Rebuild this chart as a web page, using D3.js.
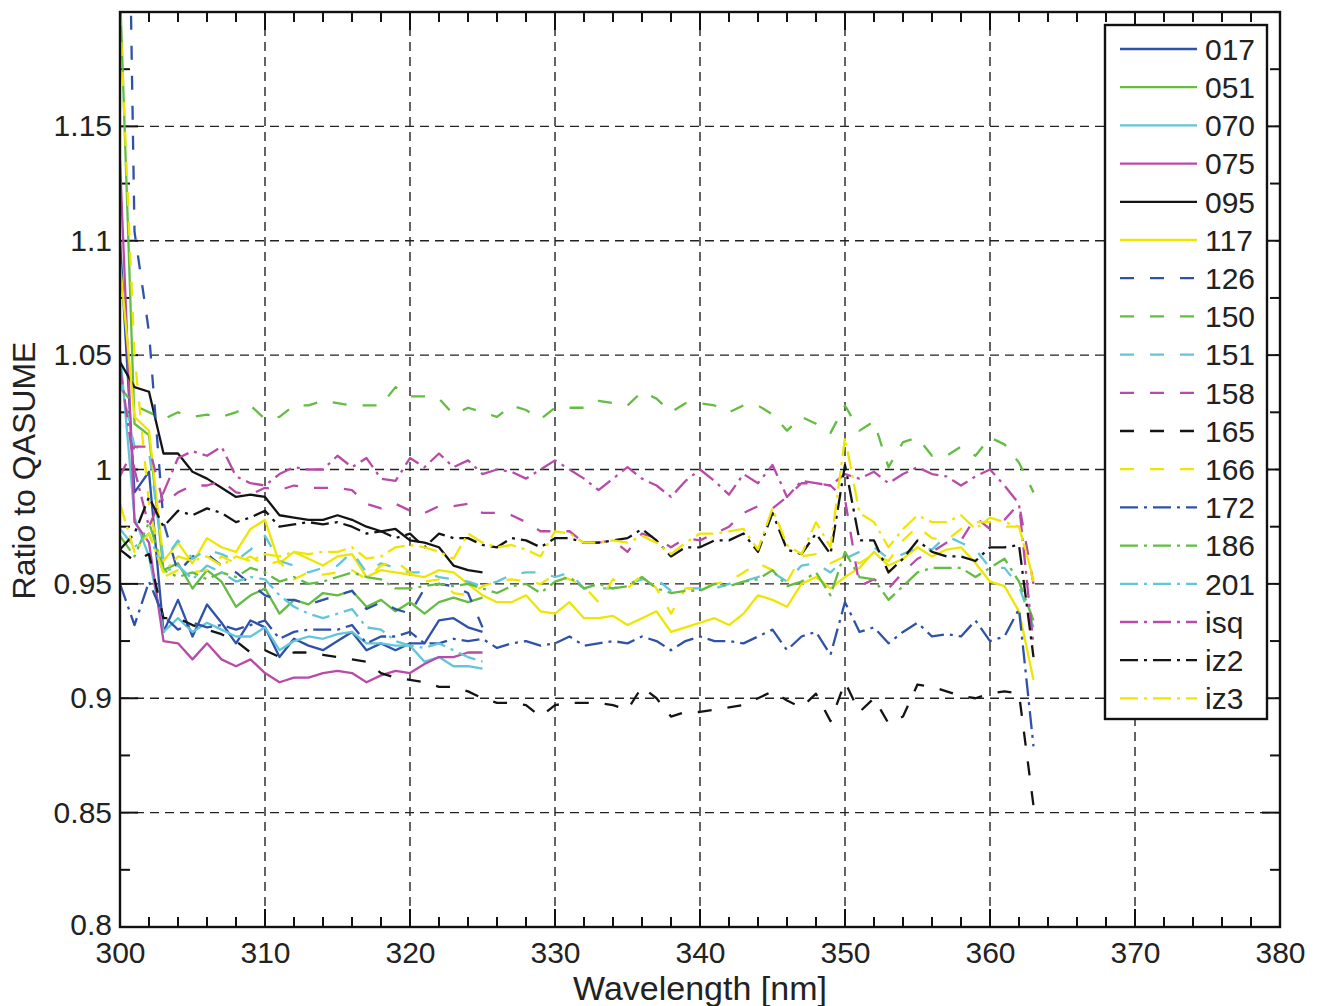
<!DOCTYPE html>
<html>
<head>
<meta charset="utf-8">
<script src="https://cdn.jsdelivr.net/npm/d3@7"></script>
<style>
  html, body { margin: 0; padding: 0; background: #fff; }
  svg text { font-family: "Liberation Sans", Arial, Helvetica, sans-serif; fill: #222; }
</style>
</head>
<body>
<svg id="chart" width="1320" height="1006"></svg>
<script>
// ---------------- DATA ----------------
const wavelengthsShort = [300,301,302,303,304,305,306,307,308,309,310,311,312,313,314,315,316,317,318,319,320,321,322,323,324,325];
const wavelengthsLong = [300,301,302,303,304,305,306,307,308,309,310,311,312,313,314,315,316,317,318,319,320,321,322,323,324,325,
  326,327,328,329,330,331,332,333,334,335,336,337,338,339,340,341,342,343,344,345,346,347,348,349,350,351,352,353,354,355,356,357,358,359,360,361,362,363];

const s017 = [1.10,0.99,0.999,0.929,0.943,0.927,0.941,0.933,0.924,0.934,0.931,0.918,0.926,0.923,0.921,0.925,0.929,0.921,0.924,0.921,0.924,0.924,0.934,0.935,0.931,0.929];
const s051 = [1.21,1.02,1.015,0.956,0.959,0.948,0.956,0.951,0.940,0.945,0.948,0.937,0.943,0.941,0.946,0.945,0.947,0.940,0.943,0.938,0.942,0.937,0.942,0.944,0.942,0.944];
const s070 = [1.052,0.979,0.962,0.929,0.935,0.929,0.933,0.930,0.927,0.927,0.931,0.921,0.925,0.927,0.926,0.928,0.929,0.924,0.924,0.923,0.923,0.916,0.918,0.914,0.914,0.913];
const s075 = [1.135,0.977,0.968,0.925,0.924,0.917,0.924,0.917,0.914,0.917,0.911,0.907,0.909,0.909,0.911,0.912,0.911,0.907,0.910,0.912,0.911,0.915,0.918,0.918,0.920,0.920];
const s095 = [1.047,1.036,1.034,1.007,1.007,0.999,0.996,0.992,0.988,0.989,0.988,0.980,0.979,0.978,0.978,0.980,0.978,0.975,0.973,0.974,0.969,0.968,0.966,0.958,0.956,0.955];
const s117 = [1.09,1.023,1.017,0.960,0.968,0.959,0.970,0.966,0.964,0.974,0.978,
  0.959,0.964,0.961,0.958,0.962,0.963,0.953,0.956,0.955,0.954,
  0.953,0.956,0.955,0.950,0.945,0.942,0.942,0.945,0.938,0.937,
  0.942,0.935,0.935,0.936,0.932,0.935,0.938,0.929,0.931,0.933,
  0.935,0.932,0.937,0.945,0.943,0.940,0.950,0.953,0.948,0.953,
  0.957,0.964,0.958,0.961,0.966,0.962,0.965,0.966,0.959,0.951,
  0.949,0.938,0.908];
const s126 = [1.5,1.104,1.06,0.977,0.955,0.962,0.963,0.958,0.955,0.950,0.945,0.943,0.943,0.941,0.943,0.945,0.947,0.939,0.942,0.939,0.937,0.948,0.950,0.949,0.946,0.931];
const s150 = [1.036,1.028,1.025,1.022,1.025,1.023,1.024,1.023,1.025,1.028,1.022,
  1.023,1.028,1.028,1.030,1.029,1.028,1.028,1.028,1.036,1.032,
  1.032,1.031,1.024,1.027,1.025,1.023,1.028,1.026,1.022,1.027,
  1.027,1.027,1.030,1.029,1.028,1.034,1.031,1.025,1.029,1.029,
  1.028,1.025,1.028,1.028,1.024,1.017,1.023,1.020,1.016,1.028,
  1.017,1.021,1.001,1.012,1.014,1.006,1.006,1.010,1.006,1.014,
  1.011,1.003,0.990];
const s151 = [1.04,1.01,1.008,0.960,0.969,0.961,0.965,0.963,0.960,0.965,0.971,
  0.960,0.958,0.955,0.957,0.958,0.964,0.955,0.959,0.957,0.955,
  0.955,0.953,0.952,0.951,0.949,0.951,0.954,0.955,0.955,0.953,
  0.955,0.948,0.948,0.948,0.950,0.952,0.952,0.947,0.948,0.948,
  0.948,0.950,0.951,0.953,0.955,0.951,0.958,0.959,0.955,0.961,
  0.964,0.966,0.961,0.963,0.966,0.965,0.971,0.968,0.965,0.957,
  0.957,0.949,0.931];
const s158 = [0.997,1.010,1.010,0.985,0.990,0.993,0.993,0.995,0.990,0.989,0.992,
  0.991,0.993,0.992,0.992,0.992,0.991,0.985,0.983,0.985,0.982,
  0.981,0.984,0.984,0.985,0.981,0.981,0.980,0.977,0.973,0.973,
  0.973,0.968,0.968,0.969,0.964,0.972,0.970,0.966,0.970,0.969,
  0.972,0.975,0.981,0.984,0.983,0.988,0.994,0.994,0.993,0.987,
  0.949,0.952,0.948,0.955,0.961,0.964,0.968,0.969,0.979,0.974,
  0.978,0.985,0.950];
const s165 = [0.965,0.960,0.963,0.935,0.935,0.932,0.930,0.928,0.925,0.920,0.921,
  0.918,0.920,0.920,0.919,0.918,0.917,0.916,0.911,0.909,0.908,
  0.907,0.905,0.905,0.903,0.900,0.898,0.898,0.897,0.892,0.897,
  0.898,0.898,0.898,0.897,0.895,0.905,0.900,0.892,0.894,0.894,
  0.895,0.896,0.897,0.900,0.903,0.899,0.896,0.902,0.890,0.907,
  0.894,0.900,0.889,0.892,0.906,0.905,0.903,0.901,0.900,0.902,
  0.903,0.902,0.853];
const s166 = [1.20,1.05,0.985,0.953,0.956,0.955,0.956,0.962,0.959,0.962,0.958,
  0.960,0.952,0.955,0.954,0.955,0.956,0.952,0.958,0.960,0.955,
  0.951,0.952,0.946,0.945,0.949,0.951,0.952,0.951,0.950,0.954,
  0.952,0.949,0.942,0.952,0.948,0.954,0.948,0.937,0.948,0.948,
  0.950,0.951,0.955,0.959,0.956,0.951,0.962,0.963,0.959,0.962,
  0.959,0.963,0.960,0.969,0.975,0.970,0.969,0.974,0.977,0.977,
  0.975,0.975,0.951];
const s172 = [0.950,0.932,0.951,0.936,0.930,0.933,0.931,0.932,0.930,0.932,0.934,
  0.926,0.929,0.930,0.930,0.930,0.932,0.924,0.927,0.927,0.929,
  0.924,0.924,0.926,0.925,0.926,0.922,0.924,0.925,0.923,0.924,
  0.927,0.923,0.924,0.925,0.924,0.927,0.925,0.921,0.925,0.927,
  0.925,0.925,0.924,0.927,0.930,0.921,0.927,0.929,0.919,0.942,
  0.929,0.931,0.924,0.929,0.933,0.927,0.928,0.927,0.934,0.925,
  0.927,0.939,0.879];
const s186 = [0.971,0.962,0.977,0.956,0.953,0.955,0.952,0.955,0.953,0.957,0.955,
  0.951,0.953,0.950,0.951,0.953,0.955,0.953,0.952,0.948,0.948,
  0.949,0.950,0.949,0.950,0.948,0.946,0.949,0.950,0.946,0.951,
  0.953,0.948,0.950,0.948,0.949,0.953,0.948,0.946,0.947,0.947,
  0.950,0.949,0.951,0.952,0.956,0.949,0.951,0.955,0.945,0.964,
  0.953,0.952,0.943,0.949,0.955,0.957,0.957,0.957,0.953,0.957,
  0.961,0.951,0.934];
const s201 = [0.974,0.966,0.972,0.955,0.958,0.952,0.958,0.955,0.951,0.953,0.952,0.945,0.940,0.937,0.935,0.937,0.939,0.931,0.930,0.925,0.923,0.922,0.924,0.921,0.918,0.916];
const sIsq = [1.045,1.000,0.975,0.990,1.005,1.008,1.006,1.010,0.997,0.994,0.993,
  0.998,1.001,1.000,1.000,1.006,1.001,1.005,0.996,0.995,1.005,
  1.001,1.007,1.001,1.004,0.998,1.000,0.999,0.996,1.000,1.004,
  1.000,0.996,0.991,0.996,1.001,0.996,0.993,0.988,0.995,1.000,
  0.995,0.989,0.998,0.994,1.002,0.988,0.995,0.994,0.993,0.998,
  0.996,0.999,0.994,0.998,1.001,0.998,0.997,0.993,0.997,1.000,
  0.993,0.985,0.923];
const sIz2 = [0.965,0.972,0.988,0.975,0.982,0.980,0.983,0.981,0.977,0.979,0.982,
  0.975,0.976,0.977,0.976,0.977,0.975,0.972,0.973,0.970,0.972,
  0.966,0.972,0.970,0.970,0.967,0.966,0.970,0.969,0.966,0.970,
  0.970,0.968,0.968,0.969,0.970,0.974,0.969,0.962,0.966,0.966,
  0.969,0.969,0.972,0.964,0.981,0.965,0.963,0.972,0.963,1.002,
  0.969,0.969,0.955,0.961,0.969,0.964,0.962,0.962,0.960,0.966,
  0.966,0.967,0.918];
const sIz3 = [0.985,0.964,0.972,0.955,0.962,0.960,0.962,0.958,0.962,0.960,0.963,
  0.962,0.964,0.963,0.964,0.964,0.966,0.961,0.962,0.966,0.967,
  0.966,0.964,0.961,0.972,0.968,0.966,0.967,0.965,0.962,0.973,
  0.972,0.968,0.968,0.969,0.968,0.971,0.968,0.963,0.968,0.972,
  0.972,0.973,0.974,0.965,0.983,0.967,0.963,0.977,0.966,1.014,
  0.981,0.977,0.966,0.974,0.980,0.977,0.977,0.980,0.974,0.979,
  0.977,0.975,0.952];

const seriesNames = ["017","051","070","075","095","117","126","150","151","158","165","166","172","186","201","isq","iz2","iz3"];
const seriesValues = [s017,s051,s070,s075,s095,s117,s126,s150,s151,s158,s165,s166,s172,s186,s201,sIsq,sIz2,sIz3];

const xTickLabels = ["300","310","320","330","340","350","360","370","380"];
const yTickLabels = ["0.8","0.85","0.9","0.95","1","1.05","1.1","1.15"];

// ---------------- STYLE ----------------
const palette = { blue:"#2f52a9", green:"#62bd41", cyan:"#62c6da", magenta:"#b94ba8", black:"#141414", yellow:"#efe600" };
const colorCycle = ["blue","green","cyan","magenta","black","yellow"];
const dashStyles = { solid:null, dashed:"14,16", dashdot:"18,6,3,6" };
const styleCycle = ["solid","dashed","dashdot"];

// ---------------- LAYOUT ----------------
const svg = d3.select("#chart");
const L = 120, R = 1280, T = 12, B = 927;
const x = d3.scaleLinear().domain([300, 380]).range([L, R]);
const y = d3.scaleLinear().domain([0.8, 1.2]).range([B, T]);

svg.append("defs").append("clipPath").attr("id","plotclip")
  .append("rect").attr("x", L).attr("y", T).attr("width", R - L).attr("height", B - T);

// grid
const gridX = xTickLabels.map(Number).filter(v => v > 300 && v < 380);
const gridY = yTickLabels.map(Number).filter(v => v > 0.8);
const grid = svg.append("g");
grid.selectAll("line.gx").data(gridX).enter().append("line")
  .attr("x1", d => x(d)).attr("x2", d => x(d)).attr("y1", T).attr("y2", B)
  .attr("stroke", "#222").attr("stroke-width", 1.4).attr("stroke-dasharray", "9,6");
grid.selectAll("line.gy").data(gridY).enter().append("line")
  .attr("x1", L).attr("x2", R).attr("y1", d => y(d)).attr("y2", d => y(d))
  .attr("stroke", "#222").attr("stroke-width", 1.4).attr("stroke-dasharray", "9,6");

// ticks (inward, minor + major)
const minorX = d3.range(300, 381, 2);
const minorY = d3.range(0, 17).map(i => 0.8 + i * 0.025);
const majorXSet = new Set(xTickLabels.map(Number));
const isMajorY = v => Math.abs(Math.round(v / 0.05) * 0.05 - v) < 1e-6;
const tk = svg.append("g").attr("stroke", "#111").attr("stroke-width", 2);
minorX.forEach(v => {
  const len = majorXSet.has(v) ? 18 : 10;
  tk.append("line").attr("x1", x(v)).attr("x2", x(v)).attr("y1", B).attr("y2", B - len);
  tk.append("line").attr("x1", x(v)).attr("x2", x(v)).attr("y1", T).attr("y2", T + len);
});
minorY.forEach(v => {
  const len = isMajorY(v) ? 18 : 10;
  tk.append("line").attr("x1", L).attr("x2", L + len).attr("y1", y(v)).attr("y2", y(v));
  tk.append("line").attr("x1", R).attr("x2", R - len).attr("y1", y(v)).attr("y2", y(v));
});

// axes labels via d3 axes
const xAxis = d3.axisBottom(x).tickValues(xTickLabels.map(Number)).tickSize(0).tickPadding(15)
  .tickFormat((d, i) => xTickLabels[i]);
const gx = svg.append("g").attr("transform", `translate(0,${B})`).call(xAxis);
gx.select(".domain").remove();
gx.selectAll("text").style("font-size", "30px").attr("fill", "#222").attr("dy", "0.71em");

const yAxis = d3.axisLeft(y).tickValues(yTickLabels.map(Number)).tickSize(0).tickPadding(8)
  .tickFormat((d, i) => yTickLabels[i]);
const gy = svg.append("g").attr("transform", `translate(${L},0)`).call(yAxis);
gy.select(".domain").remove();
gy.selectAll("text").style("font-size", "30px").attr("fill", "#222");
gy.selectAll(".tick").filter(d => d === 0.8).select("text").attr("dy", "0.25em");

// series lines
const lineGen = d3.line().x(d => x(d[0])).y(d => y(d[1]));
const plot = svg.append("g").attr("clip-path", "url(#plotclip)");
seriesValues.forEach((vals, i) => {
  const wl = vals.length === wavelengthsShort.length ? wavelengthsShort : wavelengthsLong;
  const pts = vals.map((v, j) => [wl[j], v]);
  const col = palette[colorCycle[i % 6]];
  const dash = dashStyles[styleCycle[Math.floor(i / 6)]];
  const p = plot.append("path").datum(pts).attr("d", lineGen)
    .attr("fill", "none").attr("stroke", col).attr("stroke-width", 2.3)
    .attr("stroke-linejoin", "round");
  if (dash) p.attr("stroke-dasharray", dash);
});

// frame
svg.append("rect").attr("x", L).attr("y", T).attr("width", R - L).attr("height", B - T)
  .attr("fill", "none").attr("stroke", "#111").attr("stroke-width", 2.4);

// axis titles
svg.append("text").attr("x", (L + R) / 2).attr("y", 1000).attr("text-anchor", "middle")
  .style("font-size", "34px").text("Wavelength [nm]");
svg.append("text").attr("transform", `translate(35,${(T + B) / 2 + 1}) rotate(-90)`)
  .attr("text-anchor", "middle").style("font-size", "32px").text("Ratio to QASUME");

// legend
const lg = svg.append("g");
const lgX = 1105, lgY = 25, lgW = 162, lgH = 694, rowH = 38.2, row0 = 49;
lg.append("rect").attr("x", lgX).attr("y", lgY).attr("width", lgW).attr("height", lgH)
  .attr("fill", "#fff").attr("stroke", "#111").attr("stroke-width", 2.4);
seriesNames.forEach((name, i) => {
  const yy = row0 + i * rowH;
  const col = palette[colorCycle[i % 6]];
  const dash = dashStyles[styleCycle[Math.floor(i / 6)]];
  const ln = lg.append("line").attr("x1", 1120).attr("x2", 1197).attr("y1", yy).attr("y2", yy)
    .attr("stroke", col).attr("stroke-width", 2.3);
  if (dash) ln.attr("stroke-dasharray", dash);
  lg.append("text").attr("x", 1205).attr("y", yy).attr("dy", "0.36em")
    .style("font-size", "30px").text(name);
});
</script>
</body>
</html>
